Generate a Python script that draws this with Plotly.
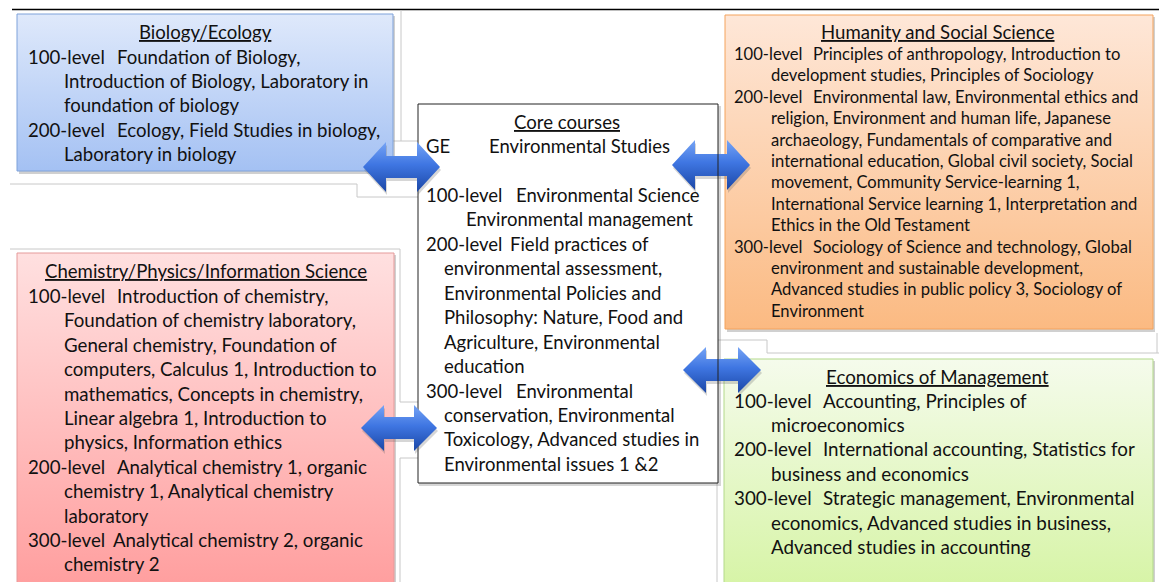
import plotly.graph_objects as go

W, H = 1159, 582
FONT = "Lato"

# ---------------- text content ----------------
blue_title = "Biology/Ecology"
blue_labels = ["100-level", "", "", "200-level", ""]
blue_texts = ["Foundation of Biology,",
              "Introduction of Biology, Laboratory in",
              "foundation of biology",
              "Ecology, Field Studies in biology,",
              "Laboratory in biology"]

orange_title = "Humanity and Social Science"
orange_labels = ["100-level", "", "200-level", "", "", "", "", "", "", "300-level", "", "", ""]
orange_texts = ["Principles of anthropology, Introduction to",
                "development studies, Principles of Sociology",
                "Environmental law, Environmental ethics and",
                "religion, Environment and human life, Japanese",
                "archaeology, Fundamentals of comparative and",
                "international education, Global civil society, Social",
                "movement, Community Service-learning 1,",
                "International Service learning 1, Interpretation and",
                "Ethics in the Old Testament",
                "Sociology of Science and technology, Global",
                "environment and sustainable development,",
                "Advanced studies in public policy 3, Sociology of",
                "Environment"]

core_title = "Core courses"
core_labels = ["GE", "", "100-level", "", "200-level", "", "", "", "", "", "300-level", "", "", ""]
core_texts = ["Environmental Studies", "",
              "Environmental Science",
              "Environmental management",
              "Field practices of",
              "environmental assessment,",
              "Environmental Policies and",
              "Philosophy: Nature, Food and",
              "Agriculture, Environmental",
              "education",
              "Environmental",
              "conservation, Environmental",
              "Toxicology, Advanced studies in",
              "Environmental issues 1 &2"]

red_title = "Chemistry/Physics/Information Science"
red_labels = ["100-level", "", "", "", "", "", "", "200-level", "", "", "300-level", ""]
red_texts = ["Introduction of chemistry,",
             "Foundation of chemistry laboratory,",
             "General chemistry, Foundation of",
             "computers, Calculus 1, Introduction to",
             "mathematics, Concepts in chemistry,",
             "Linear algebra 1, Introduction to",
             "physics, Information ethics",
             "Analytical chemistry 1, organic",
             "chemistry 1, Analytical chemistry",
             "laboratory",
             "Analytical chemistry 2, organic",
             "chemistry 2"]

green_title = "Economics of Management"
green_labels = ["100-level", "", "200-level", "", "300-level", "", ""]
green_texts = ["Accounting, Principles of",
               "microeconomics",
               "International accounting, Statistics for",
               "business and economics",
               "Strategic management, Environmental",
               "economics, Advanced studies in business,",
               "Advanced studies in accounting"]

fig = go.Figure()
annotations = []
shapes = []


def gradient_poly(xs, ys, stops, y_top, y_bot, line_color=None, line_width=0):
    fig.add_trace(go.Scatter(
        x=xs, y=ys, mode="lines", fill="toself",
        fillgradient=dict(type="vertical", colorscale=stops, start=y_top, stop=y_bot),
        line=dict(color=line_color or "rgba(0,0,0,0)", width=line_width),
        hoverinfo="skip", showlegend=False))


def flat_poly(xs, ys, fill, line_color=None, line_width=0):
    fig.add_trace(go.Scatter(
        x=xs, y=ys, mode="lines", fill="toself", fillcolor=fill,
        line=dict(color=line_color or "rgba(0,0,0,0)", width=line_width),
        hoverinfo="skip", showlegend=False))


def rect_xy(x0, y0, x1, y1):
    return [x0, x1, x1, x0, x0], [y0, y0, y1, y1, y0]


def box(x0, y0, x1, y1, c_top, c_bot, border):
    sx, sy = rect_xy(x0 + 2, y0 + 2, x1 + 2, y1 + 3)
    flat_poly(sx, sy, "rgba(120,120,120,0.35)")
    xs, ys = rect_xy(x0, y0, x1, y1)
    gradient_poly(xs, ys, [[0, c_top], [1, c_bot]], y0, y1, border, 1)


def arrow_xy(xl, xr, yc, head_len, head_half, shaft_half):
    xs = [xl, xl + head_len, xl + head_len, xr - head_len, xr - head_len, xr,
          xr - head_len, xr - head_len, xl + head_len, xl + head_len, xl]
    ys = [yc, yc - head_half, yc - shaft_half, yc - shaft_half, yc - head_half, yc,
          yc + head_half, yc + shaft_half, yc + shaft_half, yc + head_half, yc]
    return xs, ys


def arrow(xl, xr, yc, head_half=25):
    xs, ys = arrow_xy(xl, xr, yc, 23, head_half, 11)
    flat_poly([x + 1 for x in xs], [y + 3 for y in ys], "rgba(90,90,90,0.25)")
    gradient_poly(xs, ys, [[0, "#76a4f5"], [0.45, "#3f76e2"], [1, "#1b47a6"]],
                  yc - head_half, yc + head_half)


def text(x, y, s, size, anchor="left"):
    annotations.append(dict(x=x - 2 if anchor == "left" else x, y=y, text=s,
                            showarrow=False, xanchor=anchor, yanchor="middle",
                            font=dict(family=FONT, size=size, color="#111"),
                            xref="x", yref="y"))


def block(labels, texts, label_x, first_x, indent_x, y0, dy, size):
    for i, (lab, t) in enumerate(zip(labels, texts)):
        y = y0 + i * dy
        if not t:
            continue
        if lab:
            text(label_x, y, lab, size)
            fx = first_x[lab] if isinstance(first_x, dict) else first_x
            text(fx, y, t, size)
        else:
            ix = indent_x[i] if isinstance(indent_x, dict) and i in indent_x else (
                indent_x["default"] if isinstance(indent_x, dict) else indent_x)
            text(ix, y, t, size)


def line(x0, y0, x1, y1, color="#c8c8c8", width=1):
    shapes.append(dict(type="line", x0=x0, y0=y0, x1=x1, y1=y1, xref="x", yref="y",
                       line=dict(color=color, width=width), layer="below"))


# ---------------- background outline lines ----------------
line(12, 9.5, 1159, 9.5, "#000", 1.6)
line(10, 184, 357, 184); line(357, 184, 357, 197); line(357, 197, 418, 197)
line(401, 10, 401, 141); line(393, 141, 418, 141)
line(666, 138, 718, 138); line(666, 138, 666, 195); line(666, 195, 718, 195)
line(10, 249, 400, 249); line(400, 249, 400, 402)
line(400, 402, 443, 402); line(443, 402, 443, 458); line(400, 458, 443, 458)
line(400, 458, 400, 582)
line(680, 340, 767, 340); line(767, 340, 767, 353); line(767, 353, 1159, 353)
line(1157, 333, 1157, 353)
line(690, 398, 717, 398); line(717, 398, 717, 582)

# ---------------- boxes ----------------
box(17, 14, 393, 171, "#dfe9fb", "#a4c1f3", "#7fa2da")
box(725, 15, 1153, 329, "#fee7d8", "#fbba82", "#f4a35c")
box(17, 253, 394, 620, "#ffe0e0", "#ff9898", "#e59a9a")
box(724, 359, 1153, 620, "#f5fbec", "#d2f39c", "#b3d98a")

# core box fill
flat_poly([419, 721, 721, 419, 419], [106, 106, 486, 486, 106], "rgba(120,120,120,0.3)")
cx, cy = rect_xy(418, 104, 718, 483)
flat_poly(cx, cy, "#ffffff")

# arrows on the right side (under the core border)
arrow(672, 750, 165)
arrow(683, 761, 370, 23)

fig.add_trace(go.Scatter(x=cx, y=cy, mode="lines", line=dict(color="#222", width=1),
                         hoverinfo="skip", showlegend=False))

# arrows on the left side
arrow(363, 440, 167)
arrow(361, 437, 428, 23)

# ---------------- texts ----------------
text(205.5, 32, "<u>" + blue_title + "</u>", 18.6, "center")
block(blue_labels, blue_texts, 28, 117, 64, 56.5, 24.4, 18.6)

text(938, 31.5, "<u>" + orange_title + "</u>", 18.6, "center")
block(orange_labels, orange_texts, 734, 813, 771, 54, 21.4, 16.6)

text(566.5, 122, "<u>" + core_title + "</u>", 18.6, "center")
block(core_labels, core_texts, 426,
      {"GE": 489, "100-level": 516, "200-level": 510, "300-level": 516},
      {3: 466, "default": 444}, 146, 24.45, 18.5)

text(205.5, 271, "<u>" + red_title + "</u>", 18.6, "center")
block(red_labels, red_texts, 28,
      {"100-level": 117, "200-level": 117, "300-level": 113}, 64, 296, 24.4, 18.7)

text(937.5, 376, "<u>" + green_title + "</u>", 18.8, "center")
block(green_labels, green_texts, 734, 823, 771, 400, 24.4, 18.8)

fig.update_layout(
    width=W, height=H, margin=dict(l=0, r=0, t=0, b=0),
    paper_bgcolor="white", plot_bgcolor="white",
    xaxis=dict(range=[0, W], visible=False, fixedrange=True),
    yaxis=dict(range=[H, 0], visible=False, fixedrange=True),
    annotations=annotations, shapes=shapes, showlegend=False,
)

fig.write_html("out.html", config={"displayModeBar": False},
               post_script="document.body.style.margin='0';document.body.style.overflow='hidden';")
